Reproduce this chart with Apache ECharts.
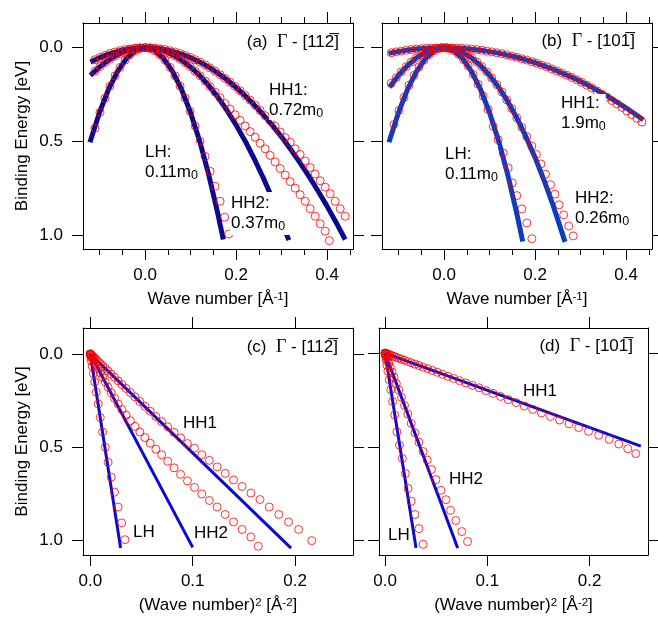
<!DOCTYPE html>
<html>
<head>
<meta charset="utf-8">
<script src="https://cdn.jsdelivr.net/npm/echarts@6/dist/echarts.min.js"></script>
<style>
  html, body { margin: 0; padding: 0; background: #fff; }
  #chart { width: 658px; height: 617px; }
</style>
</head>
<body>
<div id="chart"></div>
<script>
// ── Data: [wave number k (1/Å), binding energy (eV)] (a)/(b)
// Panel (a) Γ-[11-2] measured bands
const aLH = [
  [-0.110,0.43],[-0.099,0.345],[-0.088,0.27],[-0.077,0.205],[-0.066,0.15],[-0.055,0.105],[-0.044,0.067],
  [-0.033,0.038],[-0.022,0.017],[-0.011,0.004],[0,0],[0.011,0.004],[0.022,0.017],[0.033,0.038],[0.044,0.067],
  [0.055,0.105],[0.066,0.15],[0.077,0.205],[0.088,0.268],[0.099,0.34],[0.110,0.418],[0.121,0.5],[0.132,0.58],
  [0.143,0.66],[0.154,0.74],[0.165,0.82],[0.175,0.905],[0.184,0.995]
];
const aHH2 = [
  [-0.110,0.125],[-0.099,0.101],[-0.088,0.08],[-0.077,0.061],[-0.066,0.045],[-0.055,0.031],[-0.044,0.02],
  [-0.033,0.011],[-0.022,0.005],[-0.011,0.001],[0,0],[0.011,0.001],[0.022,0.005],[0.033,0.011],[0.044,0.02],
  [0.055,0.031],[0.066,0.045],[0.077,0.061],[0.088,0.08],[0.099,0.101],[0.110,0.125],[0.121,0.15],[0.132,0.178],
  [0.143,0.208],[0.154,0.238],[0.165,0.268],[0.176,0.298],[0.187,0.328],[0.198,0.358],[0.209,0.388],[0.220,0.418],
  [0.231,0.448],[0.242,0.478],[0.253,0.51],[0.264,0.54],[0.275,0.575],[0.286,0.61],[0.297,0.645],[0.308,0.68],
  [0.319,0.715],[0.330,0.75],[0.341,0.785],[0.352,0.82],[0.363,0.86],[0.374,0.9],[0.385,0.94],[0.396,0.98],[0.405,1.03]
];
const aHH1 = [
  [-0.110,0.064],[-0.099,0.052],[-0.088,0.041],[-0.077,0.031],[-0.066,0.023],[-0.055,0.016],[-0.044,0.01],
  [-0.033,0.006],[-0.022,0.003],[-0.011,0.001],[0,0],[0.011,0.001],[0.022,0.003],[0.033,0.006],[0.044,0.01],
  [0.055,0.016],[0.066,0.023],[0.077,0.031],[0.088,0.041],[0.099,0.052],[0.110,0.064],[0.121,0.077],[0.132,0.092],
  [0.143,0.108],[0.154,0.125],[0.165,0.144],[0.176,0.164],[0.187,0.185],[0.198,0.207],[0.209,0.23],[0.220,0.255],
  [0.231,0.28],[0.242,0.307],[0.253,0.335],[0.264,0.363],[0.275,0.39],[0.286,0.42],[0.297,0.45],[0.308,0.48],
  [0.319,0.505],[0.330,0.54],[0.341,0.57],[0.352,0.605],[0.363,0.64],[0.374,0.675],[0.385,0.71],[0.396,0.745],
  [0.407,0.78],[0.418,0.82],[0.429,0.86],[0.440,0.9]
];
// HH1 points beyond the k range of panel (a); they only show in panel (c)
const aHH1Tail = [[0.451,0.94],[0.465,1.0]];

// Panel (a) parabolic fits (LH 0.11m0, HH2 0.37m0, HH1 0.72m0)
const aFitLH = [
  [-0.121,0.505],[-0.1,0.346],[-0.08,0.221],[-0.06,0.125],[-0.04,0.055],[-0.02,0.014],[0,0],[0.02,0.014],
  [0.04,0.055],[0.06,0.125],[0.08,0.221],[0.1,0.346],[0.12,0.498],[0.14,0.678],[0.16,0.886],[0.172,1.024]
];
const aFitHH2 = [
  [-0.12,0.148],[-0.1,0.103],[-0.08,0.066],[-0.06,0.037],[-0.04,0.016],[-0.02,0.004],[0,0],[0.02,0.004],
  [0.04,0.016],[0.06,0.037],[0.08,0.066],[0.1,0.103],[0.12,0.148],[0.14,0.202],[0.16,0.264],[0.18,0.334],
  [0.2,0.412],[0.22,0.498],[0.24,0.593],[0.26,0.696],[0.28,0.807],[0.3,0.927],[0.316,1.028]
];
const aFitHH1 = [
  [-0.12,0.076],[-0.1,0.053],[-0.08,0.034],[-0.06,0.019],[-0.04,0.008],[-0.02,0.002],[0,0],[0.02,0.002],
  [0.04,0.008],[0.06,0.019],[0.08,0.034],[0.1,0.053],[0.12,0.076],[0.14,0.104],[0.16,0.135],[0.18,0.171],
  [0.2,0.212],[0.22,0.256],[0.24,0.305],[0.26,0.358],[0.28,0.415],[0.3,0.476],[0.32,0.542],[0.34,0.612],
  [0.36,0.686],[0.38,0.764],[0.4,0.846],[0.42,0.933],[0.44,1.024]
];

// Panel (b) Γ-[10-1] measured bands
const bLH = [
  [-0.110,0.41],[-0.099,0.335],[-0.088,0.265],[-0.077,0.2],[-0.066,0.148],[-0.055,0.103],[-0.044,0.066],
  [-0.033,0.037],[-0.022,0.016],[-0.011,0.004],[0,0],[0.011,0.004],[0.021,0.015],[0.032,0.035],[0.043,0.064],
  [0.053,0.097],[0.064,0.142],[0.075,0.195],[0.086,0.258],[0.097,0.33],[0.108,0.42],[0.119,0.491],[0.130,0.562],
  [0.141,0.642],[0.150,0.722],[0.160,0.79],[0.171,0.861],[0.182,0.936],[0.193,1.02]
];
const bHH2 = [
  [-0.116,0.19],[-0.105,0.16],[-0.094,0.129],[-0.083,0.101],[-0.072,0.076],[-0.061,0.055],[-0.050,0.037],
  [-0.039,0.022],[-0.028,0.011],[-0.017,0.004],[-0.006,0.001],[0.006,0.001],[0.017,0.004],[0.028,0.011],
  [0.039,0.022],[0.050,0.037],[0.061,0.055],[0.072,0.076],[0.083,0.101],[0.094,0.129],[0.105,0.162],[0.116,0.197],
  [0.127,0.236],[0.138,0.279],[0.149,0.325],[0.160,0.375],[0.171,0.425],[0.182,0.475],[0.193,0.525],[0.203,0.57],
  [0.213,0.621],[0.223,0.675],[0.234,0.732],[0.244,0.782],[0.253,0.839],[0.263,0.893],[0.274,0.952],[0.284,1.005]
];
const bHH1 = [
  [-0.116,0.027],[-0.105,0.022],[-0.094,0.018],[-0.083,0.014],[-0.072,0.01],[-0.061,0.007],[-0.050,0.005],
  [-0.039,0.003],[-0.028,0.002],[-0.017,0.001],[-0.006,0],[0.006,0],[0.017,0.001],[0.028,0.002],[0.039,0.003],
  [0.050,0.005],[0.061,0.007],[0.072,0.01],[0.083,0.014],[0.094,0.018],[0.105,0.022],[0.116,0.027],[0.127,0.032],
  [0.138,0.038],[0.149,0.045],[0.160,0.051],[0.171,0.059],[0.182,0.066],[0.193,0.075],[0.204,0.083],[0.215,0.093],
  [0.226,0.102],[0.237,0.113],[0.248,0.124],[0.259,0.135],[0.270,0.147],[0.281,0.159],[0.292,0.172],[0.303,0.185],
  [0.314,0.2],[0.325,0.215],[0.336,0.231],[0.347,0.248],[0.358,0.264],[0.369,0.282],[0.380,0.3],[0.391,0.319],
  [0.402,0.338],[0.413,0.357],[0.424,0.377],[0.435,0.397]
];
// HH1 points beyond the k range of panel (b); they only show in panel (d)
const bHH1Tail = [[0.446,0.417],[0.457,0.438],[0.468,0.46],[0.478,0.485],[0.487,0.51],[0.495,0.536]];

// Panel (b) parabolic fits (LH 0.11m0, HH2 0.26m0, HH1 1.9m0)
const bFitLH = [
  [-0.121,0.505],[-0.1,0.346],[-0.08,0.221],[-0.06,0.125],[-0.04,0.055],[-0.02,0.014],[0,0],[0.02,0.014],
  [0.04,0.055],[0.06,0.125],[0.08,0.221],[0.1,0.346],[0.12,0.498],[0.14,0.678],[0.16,0.886],[0.173,1.035]
];
const bFitHH2 = [
  [-0.12,0.211],[-0.1,0.147],[-0.08,0.094],[-0.06,0.053],[-0.04,0.023],[-0.02,0.006],[0,0],[0.02,0.006],
  [0.04,0.023],[0.06,0.053],[0.08,0.094],[0.1,0.147],[0.12,0.211],[0.14,0.287],[0.16,0.375],[0.18,0.475],
  [0.2,0.586],[0.22,0.709],[0.24,0.844],[0.266,1.037]
];
const bFitHH1 = [
  [-0.122,0.03],[-0.1,0.02],[-0.08,0.013],[-0.06,0.007],[-0.04,0.003],[-0.02,0.001],[0,0],[0.04,0.003],
  [0.08,0.013],[0.12,0.029],[0.16,0.051],[0.2,0.08],[0.24,0.115],[0.28,0.157],[0.32,0.205],[0.36,0.26],
  [0.4,0.321],[0.438,0.385]
];

// Panels (c)/(d): straight-line fits vs k^2
const cFitLH  = [[0,0],[0.0296,1.04]];
const cFitHH2 = [[0,0],[0.1,1.036]];
const cFitHH1 = [[0,0],[0.196,1.04]];
const dFitLH  = [[0,0],[0.0303,1.04]];
const dFitHH2 = [[0,0],[0.071,1.04]];
const dFitHH1 = [[0,0],[0.25,0.496]];

// Tick values
const eTicks   = [0, 0.5, 1.0];
const kMajor   = [0, 0.2, 0.4];
const kMinor   = [-0.1, -0.05, 0.05, 0.1, 0.15, 0.25, 0.3, 0.35, 0.45];
const k2Major  = [0, 0.1, 0.2];

// ── Style ───────────────────────────────────────────────────────────────
const FONT = '"Liberation Sans", Arial, Helvetica, sans-serif';
const FS = 17;
const RED = '#ff0000';
const black = { color: '#000', width: 1 };
const axisText = { fontSize: FS, fontFamily: FONT, color: '#000' };
const supRich = { sup: { fontSize: 11.5, fontFamily: FONT, color: '#000', verticalAlign: 'top', lineHeight: 8 } };

// (Wave number)^2 version of the positive-k data
const sq = pts => pts.filter(p => p[0] >= 0).map(p => [p[0] * p[0], p[1]]);

const xAxis = [], yAxis = [], series = [];

function addX(gi, min, max, majors, minors, name) {
  const common = { gridIndex: gi, type: 'value', min, max, splitLine: { show: false } };
  const idx = xAxis.length;
  xAxis.push({ ...common, position: 'bottom',
    axisLine: { onZero: false, lineStyle: black },
    axisTick: { length: 11, lineStyle: black, customValues: majors },
    axisLabel: { ...axisText, margin: 18, customValues: majors, formatter: v => v.toFixed(1) },
    name, nameLocation: 'middle', nameGap: 42,
    nameTextStyle: { ...axisText, rich: supRich } });
  xAxis.push({ ...common, position: 'top',
    axisLine: { onZero: false, lineStyle: black },
    axisTick: { length: 11, lineStyle: black, customValues: majors },
    axisLabel: { show: false } });
  if (minors) {
    ['bottom', 'top'].forEach(pos => xAxis.push({ ...common, position: pos,
      axisLine: { show: false, onZero: false },
      axisTick: { length: 6, lineStyle: black, customValues: minors },
      axisLabel: { show: false } }));
  }
  return idx;
}

function addY(gi, min, max, labelled) {
  const common = { gridIndex: gi, type: 'value', min, max, inverse: true, splitLine: { show: false } };
  const idx = yAxis.length;
  yAxis.push({ ...common, position: 'left',
    axisLine: { onZero: false, lineStyle: black },
    axisTick: { length: 11, lineStyle: black, customValues: eTicks },
    axisLabel: labelled
      ? { ...axisText, margin: 20, customValues: eTicks, formatter: v => v.toFixed(1) }
      : { show: false },
    name: labelled ? 'Binding Energy [eV]' : '', nameLocation: 'middle', nameGap: 52, nameRotate: 90,
    nameTextStyle: axisText });
  yAxis.push({ ...common, position: 'right',
    axisLine: { onZero: false, lineStyle: black },
    axisTick: { length: 11, lineStyle: black, customValues: eTicks },
    axisLabel: { show: false } });
  return idx;
}

function addPanel(xi, yi, fits, fitColor, fitWidth, tracks) {
  fits.forEach(f => series.push({ type: 'line', xAxisIndex: xi, yAxisIndex: yi, data: f,
    symbol: 'none', silent: true, z: 2, lineStyle: { color: fitColor, width: fitWidth } }));
  tracks.forEach(t => series.push({ type: 'scatter', xAxisIndex: xi, yAxisIndex: yi, data: t,
    symbol: 'circle', symbolSize: 8, silent: true, z: 3,
    itemStyle: { color: 'rgba(0,0,0,0)', borderColor: RED, borderWidth: 1 } }));
}

const kName  = 'Wave number [Å{sup|-1}]';
const k2Name = '(Wave number){sup|2} [Å{sup|-2}]';

const xa = addX(0, -0.1363, 0.4571, kMajor, kMinor, kName);
const ya = addY(0, -0.132, 1.075, true);
const xb = addX(1, -0.1363, 0.4571, kMajor, kMinor, kName);
const yb = addY(1, -0.132, 1.075, false);
const xc = addX(2, -0.0071, 0.2565, k2Major, null, k2Name);
const yc = addY(2, -0.139, 1.077, true);
const xd = addX(3, -0.0059, 0.257, k2Major, null, k2Name);
const yd = addY(3, -0.134, 1.077, false);

addPanel(xa, ya, [aFitLH, aFitHH2, aFitHH1], '#0a0a8c', 5, [aLH, aHH2, aHH1]);
addPanel(xb, yb, [bFitLH, bFitHH2, bFitHH1], '#0a3cc4', 5, [bLH, bHH2, bHH1]);
addPanel(xc, yc, [cFitLH, cFitHH2, cFitHH1], '#0a0ad2', 3,
  [sq(aLH), sq(aHH2), sq(aHH1.concat(aHH1Tail))]);
addPanel(xd, yd, [dFitLH, dFitHH2, dFitHH1], '#0a0ad2', 3,
  [sq(bLH), sq(bHH2), sq(bHH1.concat(bHH1Tail))]);

// ── Annotations ─────────────────────────────────────────────────────────
const noteRich = { s: { fontSize: 12.5, fontFamily: FONT, fill: '#000', lineHeight: 8, verticalAlign: 'bottom' } };
function note(x, y, text, pad) {
  return { type: 'text', x, y, z: 100, silent: true,
    style: { text, fontSize: FS, fontFamily: FONT, fill: '#000', backgroundColor: '#fff',
      padding: pad || 0, lineHeight: 19.5, verticalAlign: 'top', rich: noteRich } };
}
function title(x, y, text) {
  return { type: 'text', x, y, z: 100, silent: true,
    style: { text, fontSize: FS, fontFamily: FONT, fill: '#000', align: 'right', verticalAlign: 'middle',
      rich: { g: { fontSize: 18, fontFamily: '"Liberation Serif", serif', fill: '#000' } } } };
}

const graphic = [
  title(339, 42, '(a)  {g|Γ} - [112\u0305]'),
  title(635, 41.5, '(b)  {g|Γ} - [101\u0305]'),
  title(338, 347, '(c)  {g|Γ} - [112\u0305]'),
  title(633, 346, '(d)  {g|Γ} - [101\u0305]'),
  note(269, 81, 'HH1:\n0.72m{s|0}'),
  note(145, 143, 'LH:\n0.11m{s|0}'),
  note(230, 192, 'HH2:\n0.37m{s|0}', [2, 4, 2, 1]),
  note(561, 94, 'HH1:\n1.9m{s|0}'),
  note(445, 145, 'LH:\n0.11m{s|0}'),
  note(575, 189, 'HH2:\n0.26m{s|0}'),
  note(183, 414, 'HH1'),
  note(133, 523, 'LH'),
  note(194, 524, 'HH2'),
  note(523, 382, 'HH1'),
  note(449, 470, 'HH2'),
  note(388, 526, 'LH')
];

const chart = echarts.init(document.getElementById('chart'), null, { renderer: 'canvas' });
chart.setOption({
  animation: false,
  backgroundColor: '#fff',
  grid: [
    { left: 83,  top: 23,  width: 270, height: 226, containLabel: false, outerBoundsMode: 'none' },
    { left: 382, top: 23,  width: 270, height: 226, containLabel: false, outerBoundsMode: 'none' },
    { left: 83,  top: 328, width: 270, height: 227, containLabel: false, outerBoundsMode: 'none' },
    { left: 379, top: 328, width: 269, height: 227, containLabel: false, outerBoundsMode: 'none' }
  ],
  xAxis, yAxis, series, graphic
});
</script>
</body>
</html>
